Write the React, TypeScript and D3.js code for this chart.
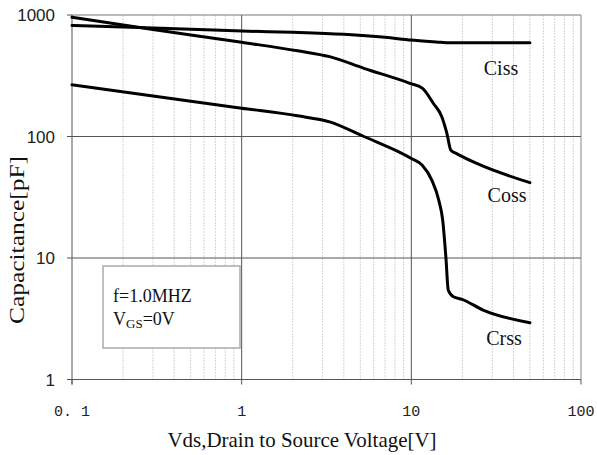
import React from 'react';
import * as d3 from 'd3';

// Vds [V] vs capacitance [pF]
const cissV = [0.1, 0.2, 0.5, 1, 2, 4, 7, 10, 14, 17, 20, 30, 50];
const cissC = [820, 795, 765, 738, 720, 693, 655, 622, 600, 590, 590, 590, 590];

const cossV = [0.1, 0.3, 1, 2.13, 3.3, 5.25, 9.8, 11.6, 13.5, 15.1, 16.2, 17.1, 18.6, 24.3, 50];
const cossC = [957, 760, 596, 508, 454, 364, 274, 250, 187, 146, 106, 77, 72, 60, 41.7];

const crssV = [0.1, 0.3, 1, 2.13, 3.3, 5.25, 10, 11.6, 13.2, 14.5, 15.3, 16.0, 16.5, 17.7, 19.9, 26.5, 50];
const crssC = [266, 215, 171, 148, 132, 100, 66, 58, 43.8, 30, 20.6, 9.95, 5.46, 4.8, 4.57, 3.73, 2.93];

const xTicks = [0.1, 1, 10, 100];
const xTickLabels = ['0. 1', '1', '10', '100'];
const yTicks = [1, 10, 100, 1000];
const yTickLabels = ['1', '10', '100', '1000'];

const width = 597;
const height = 455;
const margin = { top: 15, right: 16, bottom: 75.5, left: 72 };

const App: React.FC = () => {
  const x = d3.scaleLog().domain([0.1, 100]).range([margin.left, width - margin.right]);
  const y = d3.scaleLog().domain([1, 1000]).range([height - margin.bottom, margin.top]);

  const line = d3
    .line<[number, number]>()
    .x((d) => x(d[0]))
    .y((d) => y(d[1]))
    .curve(d3.curveMonotoneX);

  const series = [
    { v: cissV, c: cissC },
    { v: cossV, c: cossC },
    { v: crssV, c: crssC },
  ];

  const minor: number[] = [];
  [0.1, 1, 10].forEach((dec) => {
    for (let k = 2; k <= 9; k++) minor.push(dec * k);
  });

  const x0 = x.range()[0];
  const x1 = x.range()[1];
  const y0 = y.range()[0];
  const y1 = y.range()[1];
  const serif = '"Liberation Serif", "Times New Roman", serif';

  return (
    <svg width={width} height={height} style={{ position: 'absolute', left: 0, top: 0, background: '#fff' }}>
      {minor.map((v) => (
        <line key={'m' + v} x1={x(v)} x2={x(v)} y1={y1} y2={y0} stroke="#d4d4d4" strokeWidth={1} strokeDasharray="2,1" />
      ))}
      {[1, 10].map((v) => (
        <line key={'vx' + v} x1={x(v)} x2={x(v)} y1={y1} y2={y0} stroke="#555" strokeWidth={1} />
      ))}
      {[10, 100].map((v) => (
        <line key={'hy' + v} x1={x0} x2={x1} y1={y(v)} y2={y(v)} stroke="#555" strokeWidth={1} />
      ))}
      {/* frame */}
      <line x1={x0} x2={x1} y1={y1} y2={y1} stroke="#777" strokeWidth={1} />
      <line x1={x1} x2={x1} y1={y1} y2={y0} stroke="#888" strokeWidth={1} />
      <line x1={x0} x2={x0} y1={y1} y2={y0 + 5} stroke="#555" strokeWidth={1} />
      <line x1={x0 - 5} x2={x1} y1={y0} y2={y0} stroke="#555" strokeWidth={1} />
      {yTicks.map((v) => (
        <line key={'yt' + v} x1={x0 - 5} x2={x0} y1={y(v)} y2={y(v)} stroke="#555" />
      ))}
      {xTicks.map((v) => (
        <line key={'xt' + v} x1={x(v)} x2={x(v)} y1={y0} y2={y0 + 5} stroke="#555" />
      ))}

      {yTicks.map((v, i) => (
        <text key={'yl' + v} x={x0 - 17} y={y(v) + 6} textAnchor="end" fontSize={17}
          fontFamily='"Liberation Sans", Arial, sans-serif' fill="#222">
          {yTickLabels[i]}
        </text>
      ))}
      {xTicks.map((v, i) => (
        <text key={'xl' + v} x={x(v)} y={y0 + 36} textAnchor="middle" fontSize={15}
          fontFamily='"Liberation Mono", monospace' fill="#222">
          {xTickLabels[i]}
        </text>
      ))}

      {/* legend box */}
      <rect x={103} y={266} width={137} height={82} fill="#fff" stroke="#aaa" strokeWidth={1.5} />
      <text x={113} y={302} fontSize={18} fontFamily={serif} fill="#111">f=1.0MHZ</text>
      <text x={113} y={325} fontSize={18} fontFamily={serif} fill="#111">
        V<tspan fontSize={13} dy={3}>GS</tspan><tspan dy={-3}>=0V</tspan>
      </text>

      {series.map((s, i) => (
        <path key={'s' + i}
          d={line(s.v.map((v, j) => [v, s.c[j]] as [number, number])) || ''}
          fill="none" stroke="#000" strokeWidth={3} strokeLinejoin="round" strokeLinecap="round" />
      ))}

      <text x={501} y={75} textAnchor="middle" fontSize={20} fontFamily={serif} fill="#111">Ciss</text>
      <text x={507} y={202} textAnchor="middle" fontSize={20} fontFamily={serif} fill="#111">Coss</text>
      <text x={504} y={345} textAnchor="middle" fontSize={20} fontFamily={serif} fill="#111">Crss</text>

      <text x={302} y={447} textAnchor="middle" fontSize={22} fontFamily={serif} fill="#111"
        textLength={269} lengthAdjust="spacingAndGlyphs">
        Vds,Drain to Source Voltage[V]
      </text>
      <text transform="translate(24,240) rotate(-90)" textAnchor="middle" fontSize={20} fontFamily={serif} fill="#111"
        textLength={168} lengthAdjust="spacingAndGlyphs">
        Capacitance[pF]
      </text>
    </svg>
  );
};

export default App;
